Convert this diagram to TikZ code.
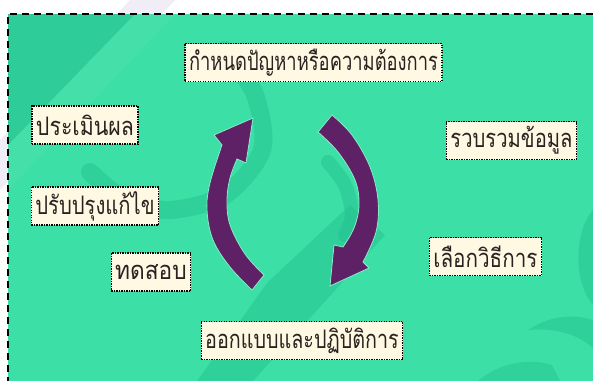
\documentclass[tikz,border=0pt]{standalone}
\usepackage{graphicx}
\usepackage{fontspec}
\newfontfamily\thaifont[Script=Thai, FakeStretch=0.9]{Loma}
\definecolor{bggreen}{HTML}{3CDFA5}
\definecolor{darkgreen}{HTML}{22BE8E}
\definecolor{boxfill}{HTML}{FFF8E2}
\definecolor{arrowpurple}{HTML}{5F2166}
\definecolor{txt}{HTML}{2A2220}
\definecolor{lav}{HTML}{C8B8DC}
\newcommand{\sq}[2]{\scalebox{#1}[1]{#2}}
\begin{document}
\begin{tikzpicture}[x=1pt,y=-1pt,
  stepbox/.style={draw=black, dash pattern=on 1.4pt off 1.1pt, line width=1.3pt,
    fill=boxfill, text=txt, font=\thaifont\fontsize{25.5}{28}\selectfont,
    minimum height=38pt, inner xsep=4pt, inner ysep=0pt},
  swirl/.style={darkgreen, opacity=0.45, line cap=round},
  arrowshape/.style={fill=arrowpurple, draw=bggreen!60!white, line width=0.8pt}]
\useasboundingbox (0,0) rectangle (593,381);
\fill[white] (0,0) rectangle (593,381);
% faint lavender stripe in margin
\fill[lav, opacity=0.25] (130,0) -- (175,0) -- (0,190) -- (0,140) -- cycle;
% green panel
\begin{scope}
\clip (8,14) rectangle (593,381);
\fill[bggreen] (8,14) rectangle (593,381);
\fill[darkgreen, opacity=0.55] (8,14) -- (135,14) -- (8,145) -- cycle;
\fill[white, opacity=0.05] (135,14) -- (175,14) -- (8,190) -- (8,145) -- cycle;
\draw[swirl, line width=18pt] plot[smooth] coordinates {(90,172) (125,200) (170,210) (225,195) (262,150) (255,95) (225,50)};
\draw[swirl, line width=14pt] plot[smooth] coordinates {(328,162) (345,185) (352,215) (345,235)};
\fill[darkgreen, opacity=0.45] (350,205) -- (385,235) -- (253,381) -- (197,381) -- (267,283) -- cycle;
\fill[darkgreen, opacity=0.45] (593,210) .. controls (575,230) and (572,280) .. (593,305) -- cycle;
\fill[darkgreen, opacity=0.45] (528,330) .. controls (555,312) and (580,316) .. (593,320) -- (593,348) .. controls (575,332) and (552,328) .. (528,330) -- cycle;
\fill[darkgreen, opacity=0.40] (478,381) .. controls (500,362) and (530,358) .. (552,365) -- (560,381) -- cycle;
\end{scope}
\draw[black, line width=1.6pt, dash pattern=on 7pt off 5pt] (593,14) -- (8,14) -- (8,381);
% arrows
\path[arrowshape] (252,290) -- plot[smooth, tension=0.6] coordinates {(252,290) (230,267) (213,240) (207,210) (210,183) (222,145)}
  -- (214,135) -- (253,118) -- (246,163) -- (237,159)
  -- plot[smooth, tension=0.6] coordinates {(237,159) (230,178) (227,200) (230,225) (245,254) (264,275)} -- cycle;
\path[arrowshape] (318,132) -- (332,115)
  -- plot[smooth, tension=0.6] coordinates {(332,115) (352,135) (370,167) (378,200) (376,232) (363,262)}
  -- (369,268) -- (330,286) -- (334,245) -- (343,247)
  -- plot[smooth, tension=0.6] coordinates {(343,247) (354,228) (359,205) (355,180) (338,152) (318,132)} -- cycle;
% boxes
\node[stepbox] (define) at (313.5,62.5) {\sq{0.80}{กำหนดปัญหาหรือความต้องการ}};
\node[stepbox] (evaluate) at (85,125) {\sq{0.93}{ประเมินผล}};
\node[stepbox] (collect) at (511.5,140.5) {\sq{0.88}{รวบรวมข้อมูล}};
\node[stepbox] (improve) at (95,206) {\sq{0.88}{ปรับปรุงแก้ไข}};
\node[stepbox] (choose) at (485.5,256.5) {\sq{0.90}{เลือกวิธีการ}};
\node[stepbox] (test) at (151,272) {\sq{0.99}{ทดสอบ}};
\node[stepbox] (design) at (302,340.5) {\sq{0.86}{ออกแบบและปฏิบัติการ}};
\end{tikzpicture}
\end{document}
